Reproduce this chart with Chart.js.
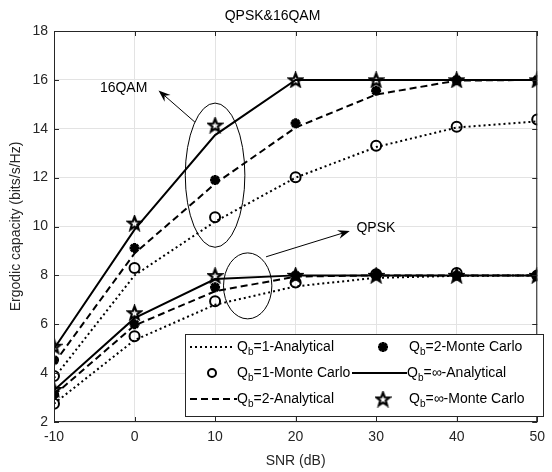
<!DOCTYPE html>
<html>
<head>
<meta charset="utf-8">
<script src="https://cdn.jsdelivr.net/npm/chart.js@4.4.1/dist/chart.umd.min.js"></script>
<style>
  html, body { margin: 0; padding: 0; background: #fff; }
  #wrap { width: 552px; height: 472px; }
</style>
</head>
<body>
<div id="wrap"><canvas id="chart" width="552" height="472"></canvas></div>
<script>
// SNR in dB
var snr = [-10, 0, 10, 20, 30, 40, 50];
var xTicks = [-10, 0, 10, 20, 30, 40, 50];
var yTicks = [2, 4, 6, 8, 10, 12, 14, 16, 18];

// 16QAM
var qamQ1Ana   = [3.8, 8.0, 10.2, 12.0, 13.25, 14.05, 14.3];
var qamQ1Mc    = [3.88, 8.3, 10.38, 12.02, 13.3, 14.08, 14.38];
var qamQ2Ana   = [4.4, 8.9, 11.75, 14.05, 15.4, 15.97, 16.0];
var qamQ2Mc    = [4.53, 9.12, 11.9, 14.22, 15.55, 16.0, 16.0];
var qamQinfAna = [5.0, 9.87, 13.74, 16.0, 16.0, 16.0, 16.0];
var qamQinfMc  = [5.1, 10.14, 14.15, 16.0, 16.0, 16.0, 16.0];

// QPSK
var qpskQ1Ana   = [2.75, 5.35, 6.8, 7.55, 7.9, 7.98, 8.0];
var qpskQ1Mc    = [2.75, 5.51, 6.94, 7.71, 8.05, 8.1, 8.0];
var qpskQ2Ana   = [3.1, 5.95, 7.35, 7.95, 8.0, 8.0, 8.0];
var qpskQ2Mc    = [3.13, 6.0, 7.51, 8.0, 8.05, 8.0, 8.0];
var qpskQinfAna = [3.3, 6.25, 7.85, 8.0, 8.0, 8.0, 8.0];
var qpskQinfMc  = [3.33, 6.47, 7.99, 8.0, 8.0, 8.0, 8.0];

var FONT = "'Liberation Sans', Arial, Helvetica, sans-serif";
var INK = '#262626';
var FS = 14;

const pts = (ys) => snr.map((x, i) => ({ x: x, y: ys[i] }));

function makeStar(size, lw) {
    var c = document.createElement('canvas');
    c.width = c.height = size;
    var g = c.getContext('2d');
    var cx = size / 2, cy = size / 2 + 0.6, R = size / 2 - lw / 2 - 0.5, r = R * 0.42;
    g.beginPath();
    for (var i = 0; i < 10; i++) {
        var a = -Math.PI / 2 + i * Math.PI / 5;
        var rad = i % 2 ? r : R;
        g.lineTo(cx + rad * Math.cos(a), cy + rad * Math.sin(a));
    }
    g.closePath();
    g.lineWidth = lw;
    g.lineJoin = 'miter';
    g.strokeStyle = '#000';
    g.stroke();
    return c;
}
var starImg = makeStar(17, 2.2);

var dotted = [2, 3];
var dashed = [7, 4];

const lineSet = (ys, dash) => ({
    data: pts(ys), showLine: true, borderColor: '#000', borderWidth: 2,
    borderDash: dash, pointRadius: 0, fill: false, tension: 0
});
const circleSet = (ys) => ({
    data: pts(ys), showLine: false, pointStyle: 'circle', pointRadius: 5,
    pointBorderWidth: 2, pointBorderColor: '#000', pointBackgroundColor: 'rgba(0,0,0,0)'
});
const asteriskSet = (ys) => ({
    data: pts(ys), showLine: false, pointStyle: 'star', pointRadius: 5,
    pointBorderWidth: 3, pointBorderColor: '#000', pointBackgroundColor: '#000'
});
const starSet = (ys) => ({
    data: pts(ys), showLine: false, pointStyle: starImg, pointRadius: 8,
    pointBorderColor: '#000'
});

// box, inward ticks, ellipses, arrows, custom legend
var decor = {
    id: 'decor',
    afterDatasetsDraw(chart) {
        var ctx = chart.ctx, a = chart.chartArea;
        var xs = chart.scales.x, ys = chart.scales.y;
        ctx.save();
        ctx.strokeStyle = INK;
        ctx.lineWidth = 1;
        ctx.strokeRect(a.left + 0.5, a.top + 0.5, a.right - a.left - 1, a.bottom - a.top - 1);
        ctx.beginPath();
        xTicks.forEach(function (t) {
            var px = Math.round(xs.getPixelForValue(t)) + 0.5;
            ctx.moveTo(px, a.bottom); ctx.lineTo(px, a.bottom - 5);
            ctx.moveTo(px, a.top); ctx.lineTo(px, a.top + 5);
        });
        yTicks.forEach(function (t) {
            var py = Math.round(ys.getPixelForValue(t)) + 0.5;
            ctx.moveTo(a.left, py); ctx.lineTo(a.left + 5, py);
            ctx.moveTo(a.right, py); ctx.lineTo(a.right - 5, py);
        });
        ctx.stroke();

        // annotations
        ctx.strokeStyle = '#000';
        ctx.fillStyle = '#000';
        ctx.lineWidth = 1;
        function ellipse(cx, cy, rx, ry) {
            var px = xs.getPixelForValue(cx), py = ys.getPixelForValue(cy);
            var w = xs.getPixelForValue(cx + rx) - px;
            var h = py - ys.getPixelForValue(cy + ry);
            ctx.beginPath();
            ctx.ellipse(px, py, w, h, 0, 0, Math.PI * 2);
            ctx.stroke();
        }
        function arrow(x1, y1, x2, y2) {
            var p1x = xs.getPixelForValue(x1), p1y = ys.getPixelForValue(y1);
            var p2x = xs.getPixelForValue(x2), p2y = ys.getPixelForValue(y2);
            var ang = Math.atan2(p2y - p1y, p2x - p1x);
            ctx.beginPath();
            ctx.moveTo(p1x, p1y);
            ctx.lineTo(p2x - 6 * Math.cos(ang), p2y - 6 * Math.sin(ang));
            ctx.stroke();
            ctx.beginPath();
            ctx.moveTo(p2x, p2y);
            ctx.lineTo(p2x - 12 * Math.cos(ang) + 4.5 * Math.sin(ang), p2y - 12 * Math.sin(ang) - 4.5 * Math.cos(ang));
            ctx.lineTo(p2x - 8 * Math.cos(ang), p2y - 8 * Math.sin(ang));
            ctx.lineTo(p2x - 12 * Math.cos(ang) - 4.5 * Math.sin(ang), p2y - 12 * Math.sin(ang) + 4.5 * Math.cos(ang));
            ctx.closePath();
            ctx.fill();
        }
        ellipse(10, 12.1, 3.7, 2.95);
        ellipse(14.05, 7.57, 3.0, 1.35);
        arrow(7.5, 14.27, 2.98, 15.57);
        arrow(16.33, 8.76, 26.73, 9.82);
        ctx.font = FS + 'px ' + FONT;
        ctx.textBaseline = 'middle';
        ctx.textAlign = 'left';
        ctx.fillText('16QAM', xs.getPixelForValue(-4.3), ys.getPixelForValue(15.65));
        ctx.fillText('QPSK', xs.getPixelForValue(27.55), ys.getPixelForValue(9.92));
        ctx.restore();
    },
    afterDraw(chart) {
        var ctx = chart.ctx;
        ctx.save();
        // legend box
        ctx.fillStyle = '#fff';
        ctx.fillRect(185, 334, 358, 82);
        ctx.strokeStyle = INK;
        ctx.lineWidth = 1;
        ctx.strokeRect(185.5, 334.5, 358, 82);

        function label(x, y, q, rest) {
            ctx.fillStyle = '#000';
            ctx.textAlign = 'left';
            ctx.textBaseline = 'middle';
            ctx.font = FS + 'px ' + FONT;
            ctx.fillText('Q', x, y);
            var w = ctx.measureText('Q').width;
            ctx.font = '10px ' + FONT;
            ctx.fillText('b', x + w, y + 5);
            var wb = ctx.measureText('b').width;
            ctx.font = FS + 'px ' + FONT;
            ctx.fillText('=' + q + '-' + rest, x + w + wb, y);
        }
        function lineSample(x1, x2, y, dash) {
            ctx.beginPath();
            ctx.setLineDash(dash);
            ctx.strokeStyle = '#000';
            ctx.lineWidth = 2;
            ctx.moveTo(x1, y); ctx.lineTo(x2, y);
            ctx.stroke();
            ctx.setLineDash([]);
        }
        var r1 = 347, r2 = 373, r3 = 399;
        lineSample(190, 233, r1, dotted);
        label(237, r1, '1', 'Analytical');
        ctx.beginPath();
        ctx.lineWidth = 2;
        ctx.strokeStyle = '#000';
        ctx.arc(212, r2, 4, 0, Math.PI * 2);
        ctx.stroke();
        label(237, r2, '1', 'Monte Carlo');
        lineSample(190, 237, r3, dashed);
        label(237, r3, '2', 'Analytical');

        ctx.lineWidth = 3;
        ctx.strokeStyle = '#000';
        Chart.helpers.drawPoint(ctx, { pointStyle: 'star', radius: 5, rotation: 0, borderWidth: 3 }, 383, r1);
        label(409, r1, '2', 'Monte Carlo');
        lineSample(352, 407, r2, []);
        label(407, r2, '\u221E', 'Analytical');
        ctx.drawImage(starImg, 383 - 8.5, r3 - 8.5);
        label(409, r3, '\u221E', 'Monte Carlo');
        ctx.restore();
    }
};

var ctx = document.getElementById('chart');

var chart = new Chart(ctx, {
    type: 'line',
    data: {
        datasets: [
            lineSet(qamQ1Ana, dotted), lineSet(qamQ2Ana, dashed), lineSet(qamQinfAna, []),
            lineSet(qpskQ1Ana, dotted), lineSet(qpskQ2Ana, dashed), lineSet(qpskQinfAna, []),
            circleSet(qamQ1Mc), asteriskSet(qamQ2Mc), starSet(qamQinfMc),
            circleSet(qpskQ1Mc), asteriskSet(qpskQ2Mc), starSet(qpskQinfMc)
        ]
    },
    options: {
        responsive: false,
        animation: false,
        layout: { padding: { right: 7, left: 0, bottom: 0, top: 0 } },
        plugins: {
            legend: { display: false },
            tooltip: { enabled: false },
            title: {
                display: true,
                text: 'QPSK&16QAM',
                color: '#000',
                font: { family: FONT, size: FS, weight: 'normal' },
                padding: { top: 8, bottom: 6.2 }
            }
        },
        scales: {
            x: {
                type: 'linear',
                min: -10, max: 50,
                afterFit: (s) => { s.height = 50; },
                afterBuildTicks: (s) => { s.ticks = xTicks.map(v => ({ value: v })); },
                grid: { color: '#e3e3e3', drawTicks: false },
                border: { display: false },
                ticks: { color: INK, padding: 7, font: { family: FONT, size: FS } },
                title: {
                    display: true, text: 'SNR (dB)', color: INK,
                    font: { family: FONT, size: FS }, padding: { top: 0, bottom: 2 }
                }
            },
            y: {
                min: 2, max: 18,
                afterFit: (s) => { s.width = 54; },
                afterBuildTicks: (s) => { s.ticks = yTicks.map(v => ({ value: v })); },
                grid: { color: '#e3e3e3', drawTicks: false },
                border: { display: false },
                ticks: { color: INK, padding: 6, font: { family: FONT, size: FS } },
                title: {
                    display: true, text: 'Ergodic capacity (bits/s/Hz)', color: INK,
                    font: { family: FONT, size: FS }, padding: { top: 8, bottom: 0 }
                }
            }
        }
    },
    plugins: [decor]
});
</script>
</body>
</html>
